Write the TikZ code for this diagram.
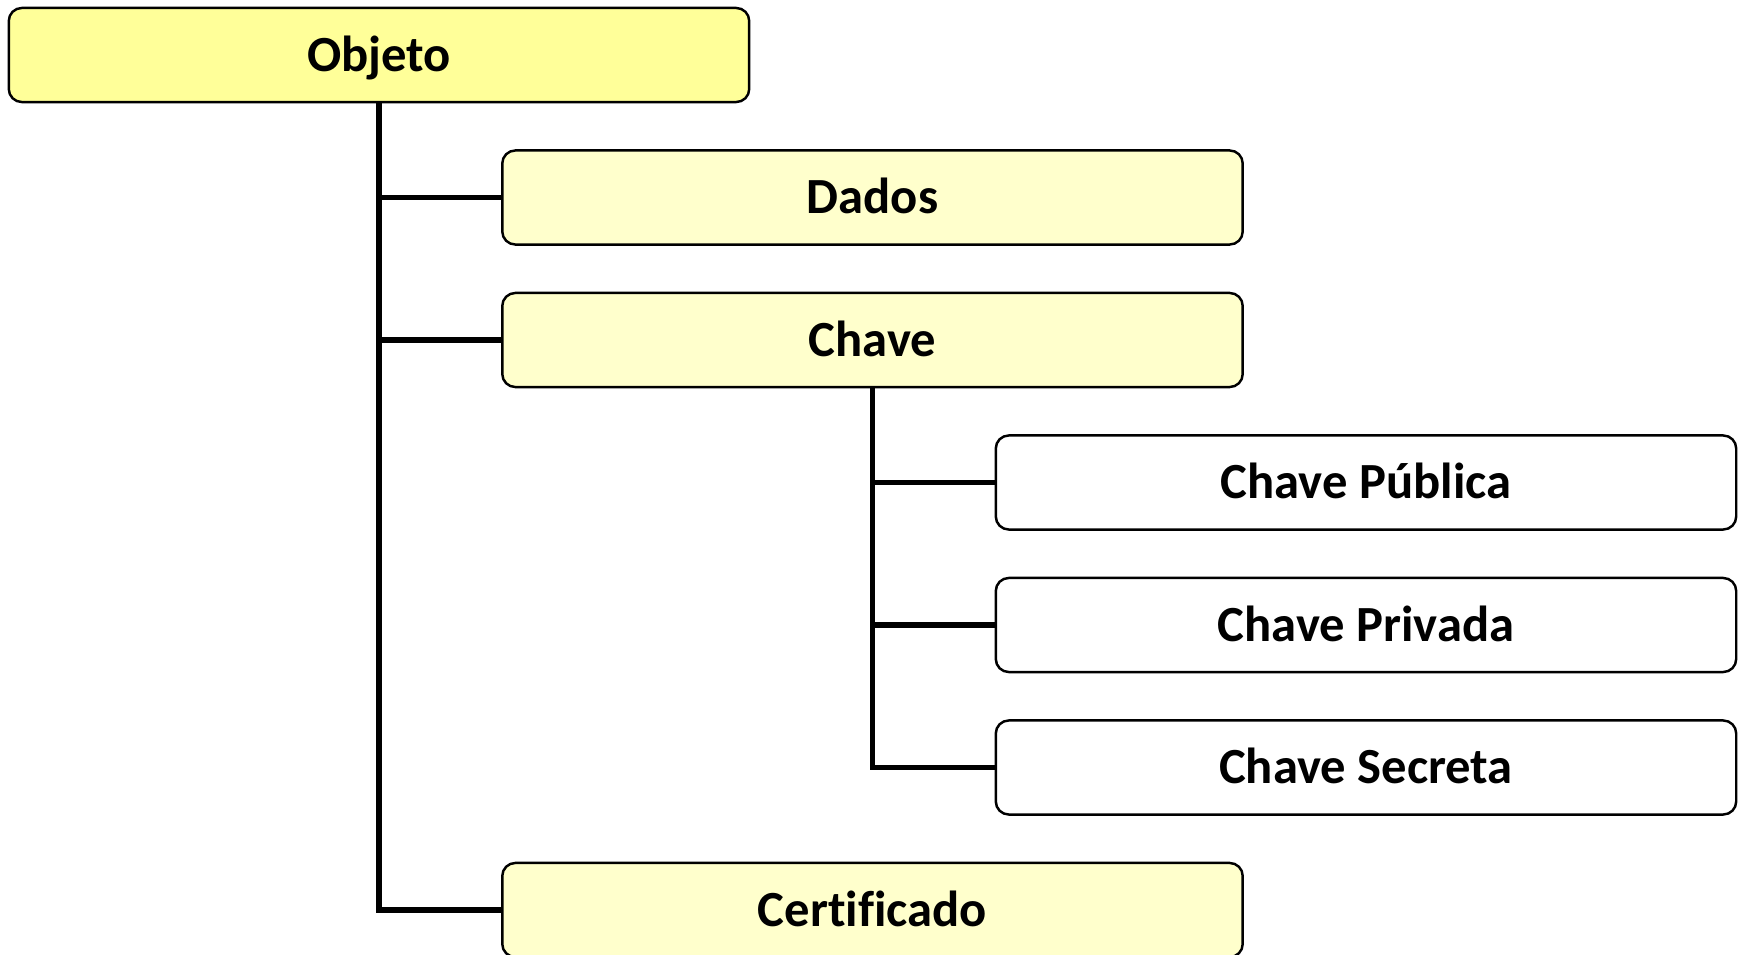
\documentclass[tikz,border=0pt]{standalone}
\usepackage{fontspec}
\setmainfont[Ligatures=NoCommon]{Carlito}
\usetikzlibrary{positioning}

\definecolor{amarelo}{HTML}{FFFF99}
\definecolor{amareloclaro}{HTML}{FFFFCC}

\tikzset{
  caixa/.style={draw, line width=0.7pt, rounded corners=0.13cm,
    minimum width=7.4cm, minimum height=0.94cm, inner sep=0pt,
    text height=9.3pt, text depth=0pt,
    font=\fontsize{14.4pt}{17pt}\selectfont\bfseries},
  ligacao/.style={line width=1.6pt}
}

\begin{document}
\begin{tikzpicture}[x=0.01cm, y=-0.01cm]

\useasboundingbox (0,0) rectangle (1745,955);

\node [caixa, fill=amarelo] (objeto) at (379,55) {Objeto};
\node [caixa, fill=amareloclaro] (dados) at (872.5,197.5) {Dados};
\node [caixa, fill=amareloclaro] (chave) at (872.5,340) {Chave};
\node [caixa, fill=white] (publica) at (1366,482.5) {Chave Pública};
\node [caixa, fill=white] (privada) at (1366,625) {Chave Privada};
\node [caixa, fill=white] (secreta) at (1366,767.5) {Chave Secreta};
\node [caixa, fill=amareloclaro] (certificado) at (872.5,910) {Certificado};

%\draw [help lines, step=100] (0,0) grid (1745,955);
\draw [ligacao] (objeto.south) |- (dados.west);
\draw [ligacao] (objeto.south) |- (chave.west);
\draw [ligacao] (objeto.south) |- (certificado.west);

\draw [ligacao] (chave.south) |- (publica.west);
\draw [ligacao] (chave.south) |- (privada.west);
\draw [ligacao] (chave.south) |- (secreta.west);

\end{tikzpicture}
\end{document}
